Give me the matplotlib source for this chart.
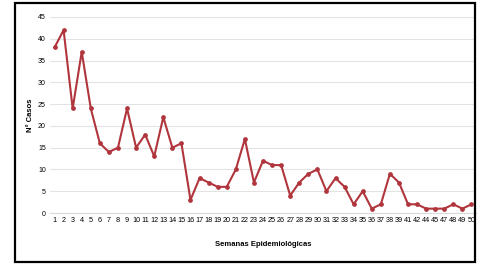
import matplotlib
matplotlib.use("Agg")
import matplotlib.pyplot as plt
from matplotlib.patches import Rectangle

plt.rcParams["font.family"] = ["Liberation Sans Narrow", "Liberation Sans", "DejaVu Sans"]

# weekly case counts (epidemiological weeks)
weeks = [str(w) for w in range(1, 40)] + ["41", "42", "44", "45", "47", "48", "49", "50"]
cases = [38, 42, 24, 37, 24, 16, 14, 15, 24, 15, 18, 13, 22, 15, 16, 3,
         8, 7, 6, 6, 10, 17, 7, 12, 11, 11, 4, 7, 9, 10, 5, 8, 6, 2, 5, 1,
         2, 9, 7, 2, 2, 1, 1, 1, 2, 1, 2]
yticks = list(range(0, 50, 5))

LINE = "#b0353c"

fig = plt.figure(figsize=(4.78, 2.64), dpi=100)
ax = fig.add_axes([50 / 478, 1 - 213 / 264, 426 / 478, 196 / 264])

x = list(range(1, len(cases) + 1))
ax.plot(x, cases, color=LINE, lw=1.5, marker="o", ms=2.4,
        mfc=LINE, mec=LINE, zorder=3)

ax.set_xlim(0.5, len(cases) + 0.5)
ax.set_ylim(0, 45)
ax.set_yticks(yticks)
ax.set_yticklabels([str(v) for v in yticks], fontsize=5)
ax.set_xticks(x)
ax.set_xticklabels(weeks, fontsize=5.2)
ax.tick_params(length=0, pad=3)
ax.grid(axis="y", color="#e3e3e3", lw=0.8)
ax.set_axisbelow(True)
for s in ("top", "right", "left"):
    ax.spines[s].set_visible(False)
ax.spines["bottom"].set_color("#d9d9d9")
ax.spines["bottom"].set_linewidth(0.8)

ax.set_ylabel("N° Casos", fontsize=5.5, fontweight="bold", labelpad=3)
ax.set_xlabel("Semanas Epidemiológicas", fontsize=5.5, fontweight="bold",
              labelpad=12)

# outer frame around the chart
fig.patches.append(Rectangle((15 / 478, 2 / 264), 460 / 478, 259 / 264,
                             transform=fig.transFigure, fill=False,
                             edgecolor="black", lw=1.6))

fig.savefig("out.png", dpi=100)
